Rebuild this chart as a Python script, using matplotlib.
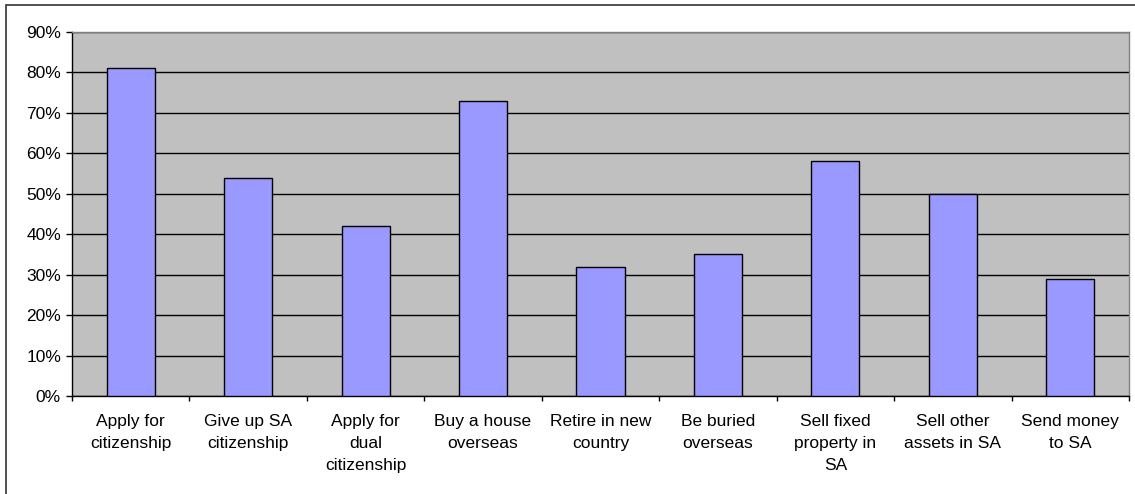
import matplotlib
matplotlib.use("Agg")
import matplotlib.pyplot as plt
from matplotlib.ticker import FixedLocator, PercentFormatter
import matplotlib.patches as mpatches

categories = [
    "Apply for\ncitizenship",
    "Give up SA\ncitizenship",
    "Apply for\ndual\ncitizenship",
    "Buy a house\noverseas",
    "Retire in new\ncountry",
    "Be buried\noverseas",
    "Sell fixed\nproperty in\nSA",
    "Sell other\nassets in SA",
    "Send money\nto SA",
]
values = [81, 54, 42, 73, 32, 35, 58, 50, 29]
yticks = [0, 10, 20, 30, 40, 50, 60, 70, 80, 90]

plt.rcParams['font.family'] = ['Liberation Sans', 'DejaVu Sans']

W, H = 1135, 494
PX = 72 / 100  # points per pixel
fig = plt.figure(figsize=(W / 100, H / 100), dpi=100)
ax = fig.add_axes([72 / W, 1 - 396 / H, (1129 - 72) / W, (396 - 32) / H])

# outer border
fig.patches.append(mpatches.Rectangle((6 / W, -0.02), 1.2, (1 - 5 / H) + 0.02,
                                      transform=fig.transFigure, fill=False,
                                      edgecolor='#333333', linewidth=1.2))

x = list(range(len(categories)))
ax.set_facecolor('#C0C0C0')
ax.bar(x, values, width=0.41, color='#9999FF', edgecolor='black', linewidth=1.0, zorder=3)

ax.set_xlim(-0.5, len(categories) - 0.5)
ax.set_ylim(0, 90)
ax.set_yticks(yticks)
ax.yaxis.set_major_formatter(PercentFormatter(decimals=0))
ax.grid(axis='y', color='black', linewidth=1.0, zorder=1)
ax.set_axisbelow(True)

ax.set_xticks(x)
ax.set_xticklabels(categories, fontsize=12.5, linespacing=1.6, va='top')
ax.xaxis.set_minor_locator(FixedLocator([i + 0.5 for i in range(-1, len(categories))]))
ax.tick_params(axis='x', which='major', length=0, pad=18 * PX)
ax.tick_params(axis='x', which='minor', length=5 * PX, width=1, color='black', direction='out')
ax.tick_params(axis='y', length=6 * PX, width=1, direction='out', pad=5 * PX, labelsize=12.5)

for s in ['top', 'right']:
    ax.spines[s].set_color('#808080')
    ax.spines[s].set_linewidth(1.0)
for s in ['left', 'bottom']:
    ax.spines[s].set_color('black')
    ax.spines[s].set_linewidth(1.0)

fig.savefig('out.png', dpi=100)
